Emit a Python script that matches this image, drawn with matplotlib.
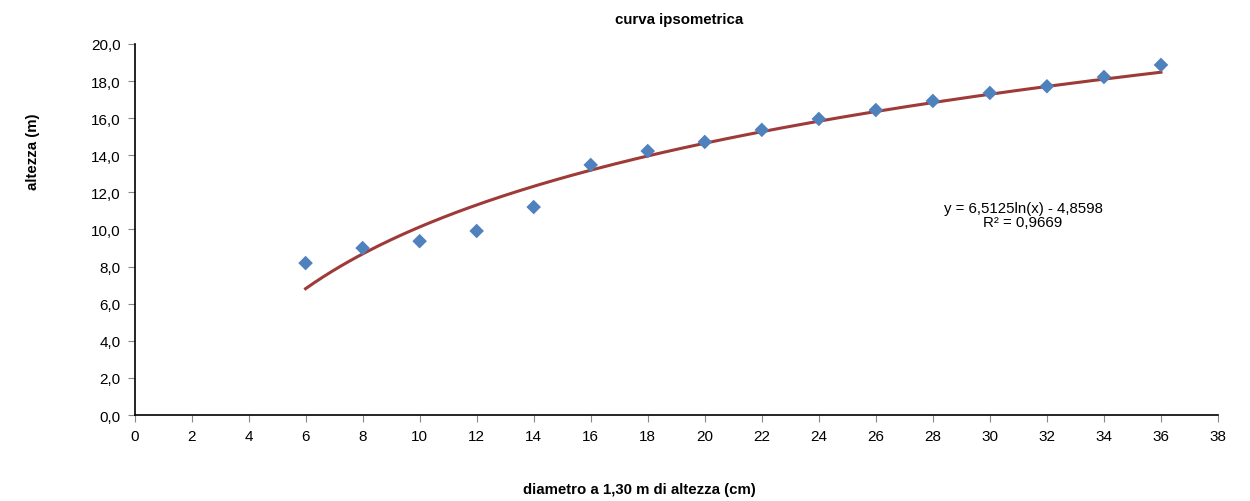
import numpy as np
import matplotlib
matplotlib.use("Agg")
import matplotlib.pyplot as plt
from matplotlib.ticker import FuncFormatter, MultipleLocator

plt.rcParams['font.family'] = ['Liberation Sans', 'DejaVu Sans']

diametro = [6, 8, 10, 12, 14, 16, 18, 20, 22, 24, 26, 28, 30, 32, 34, 36]
altezza = [8.19, 9.0, 9.37, 9.92, 11.21, 13.48, 14.23, 14.72, 15.37, 15.96,
           16.44, 16.93, 17.36, 17.72, 18.22, 18.87]
coef_a = 6.5125
coef_b = -4.8598
r2_label = "R² = 0,9669"
eq_label = "y = 6,5125ln(x) - 4,8598"

fig = plt.figure(figsize=(12.5, 5.02), dpi=100)
ax = fig.add_axes([0.1076, 0.1713, 0.8668, 0.7391])

ax.scatter(diametro, altezza, marker='D', s=55, color='#4F81BD', zorder=3,
           edgecolors='none')
xs = np.linspace(min(diametro), max(diametro), 200)
ax.plot(xs, coef_a * np.log(xs) + coef_b, color='#9E3A38', lw=2.2, zorder=2)

ax.set_xlim(0, 38)
ax.set_ylim(0, 20)
ax.xaxis.set_major_locator(MultipleLocator(2))
ax.yaxis.set_major_locator(MultipleLocator(2))
ax.yaxis.set_major_formatter(FuncFormatter(lambda v, p: f"{v:.1f}".replace('.', ',')))
for s in ['top', 'right']:
    ax.spines[s].set_visible(False)
for s in ['left', 'bottom']:
    ax.spines[s].set_linewidth(1.2)
ax.tick_params(direction='out', length=5, width=0.8, color='#888888',
               labelsize=11, pad=5)

ax.text(31.16, 10.8, eq_label + "\n" + r2_label, ha='center', va='center',
        fontsize=10.8, linespacing=1.0)

fig.text(0.5432, 0.960, "curva ipsometrica", ha='center', va='center',
         fontsize=10.8, fontweight='bold')
fig.text(0.5116, 0.024, "diametro a 1,30 m di altezza (cm)", ha='center',
         va='center', fontsize=10.8, fontweight='bold')
fig.text(0.026, 0.697, "altezza (m)", ha='center', va='center', rotation=90,
         fontsize=10.8, fontweight='bold')

fig.savefig("out.png", dpi=100)
